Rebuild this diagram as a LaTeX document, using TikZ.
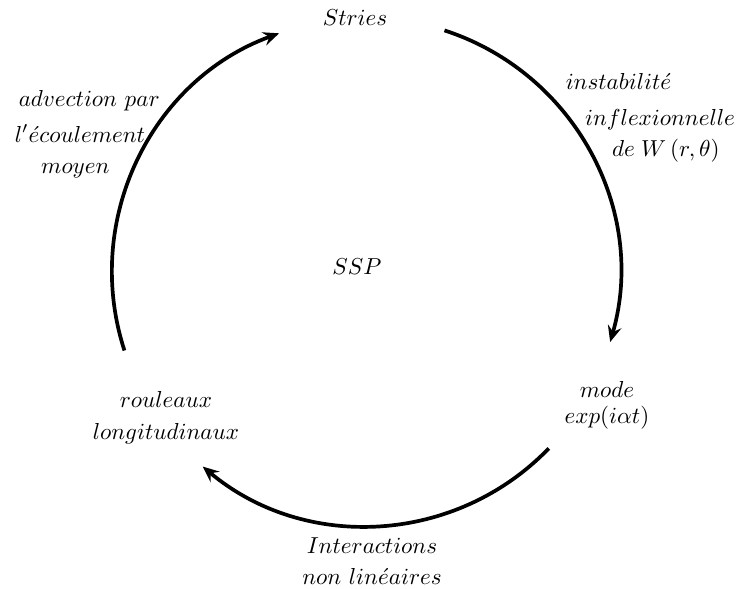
\documentclass[tikz,border=0pt]{standalone}
\usetikzlibrary{arrows.meta}

\begin{document}
\begin{tikzpicture}[x=0.01521cm,y=0.01521cm,
  cycleArrow/.style={line width=1.6pt,-{Stealth[length=7pt,width=6pt,inset=2.5pt]}},
  lbl/.style={align=center,inner sep=0pt}]
  \useasboundingbox (0,0) rectangle (741,-589);
  \coordinate (center) at (366,-272);
  % Stages
  \node[lbl,anchor=base] (stries) at (355,-26) {$Stries$};
  \node[lbl,anchor=base] (ssp) at (357,-275) {$SSP$};
  \node[lbl] (mode) at (607,-405) {$mode$\\[-0.7pt]$exp(i\alpha t)$};
  \node[lbl] (rouleaux) at (166,-418) {$rouleaux$\\[2pt]$longitudinaux$};
  % Transitions
  \node[lbl] (instab) at (652,-118) {$instabilit\acute{e}$\hspace*{29pt}\\[3.5pt]
    \hspace*{7pt}$inflexionnelle$\\[1.5pt]\hspace*{12pt}$de\;W\,(r,\theta)$};
  \node[lbl] (interac) at (372,-561) {$Interactions$\\[1.5pt]$non\ lin\acute{e}aires$};
  \node[lbl] (advec) at (80,-134) {\hspace*{8pt}$advection\ par$\\[3.5pt]
    $l'\acute{e}coulement$\\[1.5pt]$moyen$\hspace*{4pt}};
  % Arcs
  \draw[cycleArrow] (center) ++(72:254) arc[start angle=72,end angle=-16,radius=254];
  \draw[cycleArrow] (center) ++(-44:254) arc[start angle=-44,end angle=-130,radius=254];
  \draw[cycleArrow] (center) ++(198:254) arc[start angle=198,end angle=110,radius=254];
\end{tikzpicture}
\end{document}
